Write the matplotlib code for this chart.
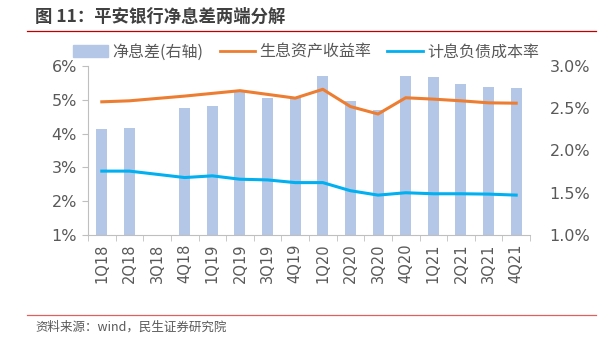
import numpy as np
import matplotlib
matplotlib.use("Agg")
import matplotlib.pyplot as plt
from matplotlib.lines import Line2D
from matplotlib.patches import Patch

plt.rcParams['font.family'] = ['Noto Sans CJK SC', 'DejaVu Sans']

quarters = ["1Q18", "2Q18", "3Q18", "4Q18", "1Q19", "2Q19", "3Q19", "4Q19",
            "1Q20", "2Q20", "3Q20", "4Q20", "1Q21", "2Q21", "3Q21", "4Q21"]
nim = [2.25, 2.27, np.nan, 2.50, 2.53, 2.70, 2.62, 2.62,
       2.88, 2.59, 2.48, 2.88, 2.87, 2.79, 2.75, 2.74]
asset_yield = [4.94, 4.97, np.nan, 5.11, 5.19, 5.27, 5.16, 5.05,
               5.31, 4.80, 4.58, 5.06, 5.02, 4.97, 4.91, 4.90]
liab_cost = [2.89, 2.89, np.nan, 2.70, 2.75, 2.65, 2.63, 2.55,
             2.55, 2.31, 2.18, 2.25, 2.22, 2.22, 2.21, 2.18]
left_ticks = [1, 2, 3, 4, 5, 6]
right_ticks = [1.0, 1.5, 2.0, 2.5, 3.0]

c_bar = '#B4C7E7'
c_or = '#ED7D31'
c_bl = '#00B0F0'
gray = '#595959'
axgray = '#BFBFBF'
numfont = ['DejaVu Sans']

fig = plt.figure(figsize=(6.12, 3.5), dpi=100)
W, H = 612, 350
ax = fig.add_axes([88 / W, 1 - 235 / H, (530 - 88) / W, (235 - 66) / H])
ax2 = ax.twinx()

x = np.arange(len(quarters))
ax2.bar(x, nim, width=0.4, color=c_bar, zorder=1)
ax2.set_ylim(1.0, 3.0)
ax2.set_yticks(right_ticks)
ax2.set_yticklabels([f"{v:.1f}%" for v in right_ticks], color=gray, fontsize=11.5,
                    family=numfont)

ay = np.array(asset_yield)
lc = np.array(liab_cost)
m = ~np.isnan(ay)
ax.plot(x[m], ay[m], color=c_or, lw=2.2, zorder=3)
m2 = ~np.isnan(lc)
ax.plot(x[m2], lc[m2], color=c_bl, lw=2.2, zorder=3)
ax.set_zorder(ax2.get_zorder() + 1)
ax.patch.set_visible(False)

ax.set_ylim(1, 6)
ax.set_yticks(left_ticks)
ax.set_yticklabels([f"{v}%" for v in left_ticks], color=gray, fontsize=11.5, family=numfont)
ax.set_xlim(-0.5, len(quarters) - 0.5)
ax.set_xticks(x)
ax.set_xticklabels(quarters, rotation=90, color=gray, fontsize=10.5, family=numfont)
ax.set_xticks(np.arange(-0.5, len(quarters), 1), minor=True)
ax.tick_params(axis='x', which='major', length=0, pad=6)
ax.tick_params(axis='x', which='minor', length=4, color=axgray, direction='out')
ax.tick_params(axis='y', length=4, color=axgray, pad=4)
ax2.tick_params(axis='y', length=0, pad=14)

for a in (ax, ax2):
    for s in ['top', 'right']:
        a.spines[s].set_visible(False)
    a.spines['left'].set_visible(a is ax)
    a.spines['bottom'].set_color(axgray)
    a.spines['left'].set_color(axgray)
ax2.spines['bottom'].set_visible(False)

handles = [Patch(color=c_bar), Line2D([], [], color=c_or, lw=2), Line2D([], [], color=c_bl, lw=2)]
labels = ["净息差(右轴)", "生息资产收益率", "计息负债成本率"]
fig.legend(handles, labels, loc='center', bbox_to_anchor=(0.5, 1 - 52 / H), ncol=3,
           frameon=False, fontsize=11.5, labelcolor=gray, handlelength=2.2,
           handletextpad=0.3, columnspacing=1.0)

fig.text(35 / W, 1 - 17 / H, "图 11：平安银行净息差两端分解", fontsize=12.5, fontweight='bold',
         color='#404040', va='center', ha='left')
fig.add_artist(Line2D([27 / W, 596 / W], [1 - 31 / H, 1 - 31 / H], color='#C00000', lw=0.9))
fig.add_artist(Line2D([27 / W, 596 / W], [1 - 315 / H, 1 - 315 / H], color='#E06060', lw=0.9))
fig.text(35 / W, 1 - 327 / H, "资料来源：wind，民生证券研究院", fontsize=9, color=gray,
         va='center', ha='left')

fig.savefig("out.png", dpi=100)
